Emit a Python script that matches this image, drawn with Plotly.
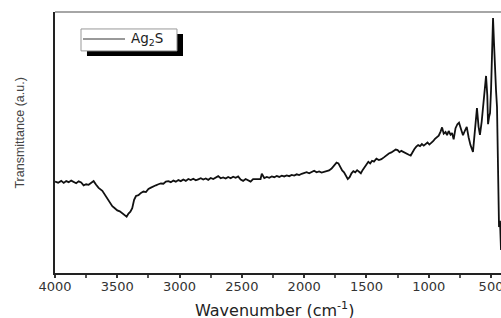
import plotly.graph_objects as go

wavenumber = [4000, 3975, 3950, 3930, 3910, 3890, 3870, 3850, 3830, 3810, 3790, 3770, 3750, 3730, 3710, 3690, 3670, 3650, 3620, 3600,
              3580, 3560, 3540, 3520, 3500, 3480, 3460, 3440, 3425, 3410, 3395, 3380, 3365, 3350, 3330, 3310, 3290, 3270, 3250, 3230,
              3210, 3190, 3170, 3150, 3130, 3110, 3090, 3070, 3050, 3030, 3010, 2990, 2970, 2950, 2930, 2910, 2890, 2870, 2850, 2830,
              2810, 2790, 2770, 2750, 2730, 2710, 2690, 2670, 2650, 2630, 2610, 2590, 2570, 2550, 2530, 2510, 2490, 2470, 2450, 2430,
              2410, 2390, 2370, 2350, 2340, 2320, 2300, 2280, 2260, 2240, 2220, 2200, 2180, 2160, 2140, 2120, 2100, 2080, 2060, 2040,
              2020, 2000, 1980, 1960, 1940, 1920, 1900, 1880, 1860, 1840, 1820, 1800, 1780, 1760, 1740, 1725, 1710, 1695, 1680, 1665,
              1650, 1635, 1620, 1605, 1590, 1575, 1560, 1545, 1530, 1515, 1500, 1485, 1470, 1455, 1440, 1420, 1400, 1380, 1360, 1340,
              1320, 1300, 1280, 1265, 1250, 1235, 1220, 1200, 1180, 1160, 1145, 1130, 1115, 1100, 1085, 1070, 1055, 1040, 1025, 1010,
              995, 980, 965, 950, 935, 920, 905, 893, 880, 865, 853, 840, 825, 813, 800, 785, 770, 757, 740, 725,
              710, 695, 680, 665, 645, 630, 613, 600, 589, 575, 560, 545, 540, 530, 524, 515, 508, 500, 490, 484,
              476, 468, 460, 452, 444, 436, 428, 420]
transmittance = [35.0, 34.6, 35.3, 34.5, 35.2, 34.8, 35.4, 35.0, 34.4, 35.1, 34.7, 33.6, 34.0, 33.8, 34.5, 35.2, 33.8, 32.6, 31.5, 30.0,
                 28.6, 26.8, 25.6, 24.8, 24.0, 23.6, 22.9, 22.3, 21.6, 22.8, 23.5, 24.8, 28.0, 29.5, 29.8, 30.7, 31.2, 31.0, 32.2, 32.7,
                 33.3, 33.6, 34.0, 34.3, 34.2, 35.0, 35.2, 34.8, 35.4, 35.0, 35.6, 35.2, 35.8, 35.3, 36.0, 35.6, 36.1, 35.5, 35.9, 36.3,
                 35.8, 36.2, 35.7, 36.4, 36.0, 36.6, 37.1, 36.3, 36.6, 36.2, 36.8, 36.3, 36.9, 36.5, 37.0, 35.8, 35.3, 36.0, 35.6, 35.0,
                 36.0, 36.0, 36.2, 36.0, 38.0, 36.4, 36.8, 36.5, 37.0, 36.7, 37.2, 36.8, 37.3, 37.0, 37.4, 37.1, 37.6, 37.3, 37.8, 37.5,
                 38.0, 38.2, 38.6, 38.2, 38.8, 39.2, 38.6, 38.9, 38.5, 38.7, 38.9, 39.3, 40.0, 41.2, 42.3, 42.0, 40.6, 39.3, 38.6, 37.5,
                 36.0, 36.7, 38.2, 39.0, 38.6, 39.4, 38.8, 38.2, 39.5, 40.4, 41.5, 42.6, 42.0, 43.0, 42.7, 43.8, 43.3, 43.6, 44.3, 45.2,
                 45.8, 46.2, 46.8, 47.3, 47.1, 46.3, 46.8, 46.2, 45.8, 45.3, 45.0, 46.5, 47.5, 48.4, 49.0, 48.6, 49.4, 48.8, 49.6, 50.0,
                 49.2, 49.8, 50.5, 51.4, 52.0, 52.6, 54.2, 55.8, 53.4, 54.0, 52.8, 54.4, 53.0, 53.6, 51.2, 55.5, 57.0, 57.6, 55.0, 52.8,
                 54.5, 56.0, 52.0, 49.0, 46.4, 55.0, 63.2, 56.0, 52.9, 58.0, 66.0, 75.0, 75.5, 68.0, 57.0, 60.0, 61.3, 70.0, 90.0, 97.7,
                 88.0, 75.9, 70.0, 63.6, 28.0, 17.6, 20.0, 8.8]

x_ticks = [4000, 3500, 3000, 2500, 2000, 1500, 1000, 500]
x_minor_ticks = [3750, 3250, 2750, 2250, 1750, 1250, 750]
series_name = "Ag<sub>2</sub>S"
x_title = "Wavenumber (cm<sup>-1</sup>)"
y_title = "Transmittance (a.u.)"
WIDE = "DejaVu Sans, Verdana, sans-serif"
NARROW = "Liberation Sans Narrow, Liberation Sans, Arial, sans-serif"

fig = go.Figure()
fig.add_trace(go.Scatter(x=wavenumber, y=transmittance, mode="lines", name=series_name,
                         line=dict(color="#111111", width=1.8), showlegend=False))

fig.update_layout(
    width=501, height=318,
    margin=dict(l=55, r=0, t=12, b=45, autoexpand=False),
    paper_bgcolor="white", plot_bgcolor="white",
    font=dict(family=WIDE, color="#333333"),
    showlegend=False,
    xaxis=dict(range=[4000, 420], tickvals=x_ticks, ticktext=[str(v) for v in x_ticks],
               showgrid=False, zeroline=False, showline=True, linecolor="#222222", linewidth=2,
               ticks="outside", ticklen=3, tickwidth=1.5, tickcolor="#333333",
               minor=dict(tickvals=x_minor_ticks, ticks="outside", ticklen=3, tickcolor="#555555"),
               tickfont=dict(size=13, color="#333333", family=WIDE),
               ticklabelstandoff=-3, ticklabeloverflow="allow",
               automargin=False),
    yaxis=dict(range=[0, 100], showticklabels=False, showgrid=False, zeroline=False,
               showline=True, linecolor="#222222", linewidth=2, ticks="",
               automargin=False),
)

# axis titles
fig.add_annotation(xref="paper", yref="paper", x=0.493, y=-0.138, xanchor="center", yanchor="middle",
                   text=x_title, showarrow=False, font=dict(size=16, color="#222222", family=WIDE))
fig.add_annotation(xref="paper", yref="paper", x=-0.0785, y=0.538, xanchor="center", yanchor="middle",
                   textangle=-90, text=y_title, showarrow=False,
                   font=dict(size=12.5, color="#444444", family=NARROW))

# top frame line
fig.add_shape(type="line", xref="paper", yref="paper", x0=0, x1=1, y0=1, y1=1,
              line=dict(color="#888888", width=1.5))
# legend: drop shadow, box, sample line, label
fig.add_shape(type="rect", xref="paper", yref="paper", x0=0.0717, x1=0.287, y0=0.831, y1=0.916,
              fillcolor="black", line=dict(width=0), layer="above")
fig.add_shape(type="rect", xref="paper", yref="paper", x0=0.0583, x1=0.2735, y0=0.851, y1=0.935,
              fillcolor="white", line=dict(color="#999999", width=1), layer="above")
fig.add_shape(type="line", xref="paper", yref="paper", x0=0.0628, x1=0.157, y0=0.8966, y1=0.8966,
              line=dict(color="#777777", width=1.5), layer="above")
fig.add_annotation(xref="paper", yref="paper", x=0.166, y=0.898, xanchor="left", yanchor="middle",
                   text=series_name, showarrow=False, font=dict(size=13.5, color="#222222", family=WIDE))

fig.write_html("out.html", config={"displayModeBar": False},
               post_script="document.body.style.margin='0';document.body.style.overflow='hidden';")
